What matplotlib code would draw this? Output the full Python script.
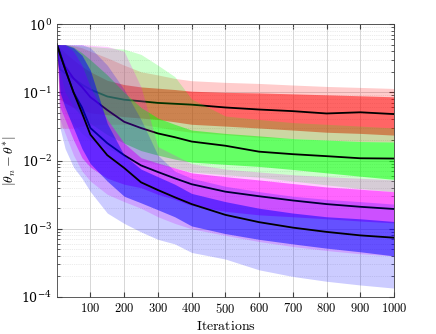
import numpy as np
import matplotlib
matplotlib.use('Agg')
import matplotlib.pyplot as plt
from matplotlib.ticker import FuncFormatter, LogLocator, NullFormatter

plt.rcParams['mathtext.fontset'] = 'cm'
plt.rcParams['font.family'] = 'serif'

#%% data
iters = [1, 10, 25, 50, 75, 100, 150, 200, 250, 300, 350, 400, 500, 600, 700, 800, 900, 1000]

# red
red_med    = [0.5, 0.22, 0.19, 0.16, 0.13, 0.11, 0.087, 0.078, 0.074, 0.070, 0.068, 0.066, 0.060, 0.056, 0.053, 0.049, 0.051, 0.048]
red_in_hi  = [0.5, 0.45, 0.38, 0.30, 0.24, 0.20, 0.15, 0.13, 0.12, 0.115, 0.11, 0.104, 0.100, 0.098, 0.095, 0.092, 0.089, 0.086]
red_in_lo  = [0.5, 0.08, 0.07, 0.06, 0.055, 0.05, 0.047, 0.044, 0.042, 0.04, 0.037, 0.034, 0.032, 0.030, 0.028, 0.026, 0.025, 0.0236]
red_out_hi = [0.5, 0.5, 0.5, 0.48, 0.45, 0.40, 0.32, 0.25, 0.20, 0.18, 0.16, 0.148, 0.14, 0.135, 0.128, 0.122, 0.118, 0.114]
red_out_lo = [0.5, 0.03, 0.03, 0.03, 0.032, 0.033, 0.034, 0.034, 0.034, 0.031, 0.028, 0.026, 0.024, 0.022, 0.021, 0.020, 0.019, 0.0187]

# green
grn_med    = [0.5, 0.36, 0.24, 0.16, 0.12, 0.085, 0.055, 0.037, 0.03, 0.025, 0.022, 0.019, 0.0165, 0.0135, 0.0124, 0.0116, 0.0108, 0.0107]
grn_in_hi  = [0.5, 0.5, 0.5, 0.46, 0.38, 0.30, 0.18, 0.10, 0.06, 0.042, 0.034, 0.028, 0.025, 0.023, 0.021, 0.020, 0.019, 0.0187]
grn_in_lo  = [0.5, 0.2, 0.1, 0.06, 0.045, 0.035, 0.024, 0.018, 0.014, 0.012, 0.0105, 0.0095, 0.0088, 0.0082, 0.0074, 0.0066, 0.0059, 0.0053]
grn_out_hi = [0.5, 0.5, 0.5, 0.49, 0.48, 0.47, 0.45, 0.43, 0.36, 0.25, 0.17, 0.08, 0.045, 0.04, 0.036, 0.034, 0.032, 0.030]
grn_out_lo = [0.5, 0.08, 0.05, 0.035, 0.025, 0.02, 0.015, 0.012, 0.0098, 0.0088, 0.0078, 0.0068, 0.0062, 0.0057, 0.005, 0.0044, 0.0039, 0.0035]

# magenta
mag_med    = [0.5, 0.38, 0.22, 0.10, 0.06, 0.03, 0.018, 0.012, 0.0085, 0.0068, 0.0055, 0.0045, 0.0035, 0.003, 0.0026, 0.0023, 0.0021, 0.00195]
mag_in_hi  = [0.5, 0.5, 0.5, 0.40, 0.25, 0.12, 0.04, 0.018, 0.011, 0.0092, 0.0078, 0.0066, 0.0058, 0.0052, 0.0046, 0.0041, 0.0038, 0.0035]
mag_in_lo  = [0.5, 0.06, 0.04, 0.02, 0.011, 0.008, 0.0055, 0.0045, 0.004, 0.0032, 0.0027, 0.0022, 0.0018, 0.0016, 0.0015, 0.0014, 0.0013, 0.00122]
mag_out_hi = [0.5, 0.5, 0.5, 0.5, 0.5, 0.49, 0.47, 0.40, 0.12, 0.016, 0.012, 0.009, 0.0075, 0.0068, 0.0062, 0.0058, 0.0055, 0.0052]
mag_out_lo = [0.5, 0.04, 0.025, 0.012, 0.007, 0.005, 0.0032, 0.0025, 0.002, 0.0015, 0.0012, 0.001, 0.0008, 0.00065, 0.00055, 0.00048, 0.00043, 0.0004]

# blue
blu_med    = [0.5, 0.36, 0.22, 0.10, 0.05, 0.024, 0.012, 0.0078, 0.0048, 0.0037, 0.0029, 0.0023, 0.0016, 0.00125, 0.00104, 0.0009, 0.0008, 0.00074]
blu_in_hi  = [0.5, 0.5, 0.5, 0.45, 0.35, 0.21, 0.035, 0.012, 0.0075, 0.0058, 0.0045, 0.0033, 0.0025, 0.002, 0.0017, 0.0015, 0.0014, 0.00128]
blu_in_lo  = [0.5, 0.1, 0.06, 0.03, 0.015, 0.009, 0.005, 0.003, 0.0024, 0.0019, 0.0015, 0.0011, 0.00085, 0.0007, 0.0006, 0.00052, 0.00046, 0.0004]
blu_out_hi = [0.5, 0.5, 0.5, 0.5, 0.5, 0.45, 0.25, 0.11, 0.04, 0.012, 0.007, 0.0055, 0.0042, 0.0035, 0.003, 0.0027, 0.0025, 0.0023]
blu_out_lo = [0.5, 0.03, 0.015, 0.008, 0.0055, 0.0035, 0.0017, 0.0012, 0.0009, 0.0007, 0.0006, 0.00045, 0.00036, 0.00025, 0.0002, 0.00017, 0.00015, 0.000135]

series = [
    ((1, 0, 0), red_med, red_in_lo, red_in_hi, red_out_lo, red_out_hi),
    ((0, 1, 0), grn_med, grn_in_lo, grn_in_hi, grn_out_lo, grn_out_hi),
    ((1, 0, 1), mag_med, mag_in_lo, mag_in_hi, mag_out_lo, mag_out_hi),
    ((0, 0, 1), blu_med, blu_in_lo, blu_in_hi, blu_out_lo, blu_out_hi),
]

#%% plot
fig = plt.figure(figsize=(4.36, 3.34), dpi=100)
ax = fig.add_axes([0.1307, 0.1108, 0.773, 0.817])

# 바깥 밴드 -> 안쪽 밴드 -> 중앙값 순서 (뒤 시리즈가 앞 시리즈 선을 덮음)
for col, med, in_lo, in_hi, out_lo, out_hi in series:
    ax.fill_between(iters, out_lo, out_hi, color=col, alpha=0.2, lw=0, zorder=2)
    ax.fill_between(iters, in_lo, in_hi, color=col, alpha=0.5, lw=0, zorder=2)
    ax.plot(iters, med, color='k', lw=1.3, zorder=2)

ax.set_yscale('log')
ax.set_xlim(1, 1000)
ax.set_ylim(1e-4, 1)
ax.set_xticks(range(100, 1001, 100))
ax.xaxis.set_major_formatter(FuncFormatter(lambda v, p: r'$%d$' % v))
ax.yaxis.set_major_locator(LogLocator(base=10, numticks=10))
ax.yaxis.set_minor_locator(LogLocator(base=10, subs=np.arange(2, 10), numticks=10))
ax.yaxis.set_minor_formatter(NullFormatter())

ax.grid(True, which='major', color='#d0d0d0', lw=0.6, zorder=1)
ax.grid(True, which='minor', axis='y', color='#d8d8d8', lw=0.5, linestyle=':', zorder=1)
ax.set_axisbelow(True)

ax.tick_params(which='both', direction='in', top=True, right=True, labelsize=9, color='#404040')
ax.tick_params(which='major', length=3.5)
ax.tick_params(which='minor', length=2)
for s in ax.spines.values():
    s.set_color('#404040')
    s.set_linewidth(0.6)

ax.set_xlabel(r'$\mathrm{Iterations}$', fontsize=10, labelpad=2)
ax.set_ylabel(r'$|\theta_n - \theta^{*}|$', fontsize=10, labelpad=2)

plt.savefig('out.png', dpi=100)
